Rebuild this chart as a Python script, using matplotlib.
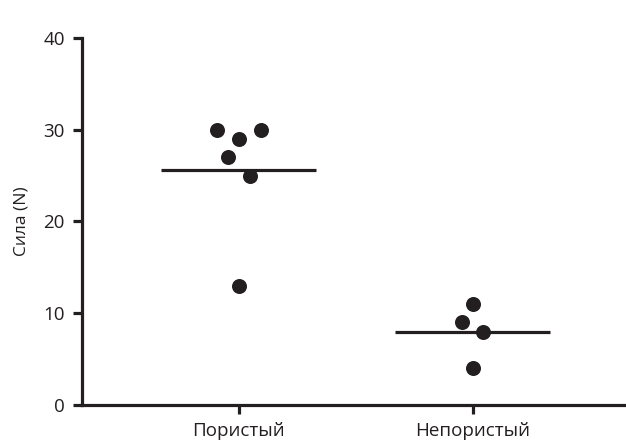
import numpy as np
import matplotlib.pyplot as plt

plt.rcParams['font.family'] = ['Open Sans', 'DejaVu Sans']

ink = '#231f20'

# -----------------------------
# data
# -----------------------------
categories = ["Пористый", "Непористый"]
porous = [30, 30, 29, 27, 25, 13]
nonporous = [11, 9, 8, 4]
# horizontal spread of the dots inside each column (category units)
porous_jitter = [-0.094, 0.094, 0.0, -0.047, 0.047, 0.0]
nonporous_jitter = [0.0, -0.046, 0.046, 0.0]

groups = [porous, nonporous]
jitters = [porous_jitter, nonporous_jitter]

# -----------------------------
# plot
# -----------------------------
fig = plt.figure(figsize=(6.26, 4.45), dpi=100)
ax = fig.add_axes([0.131, 0.0899, 0.869, 0.8247])

for i, (vals, jit) in enumerate(zip(groups, jitters)):
    xs = i + np.array(jit)
    ax.plot(xs, vals, 'o', color=ink, markersize=10.8, markeredgewidth=0,
            clip_on=False, zorder=3)
    m = np.mean(vals)
    ax.hlines(m, i - 0.333, i + 0.333, color=ink, linewidth=2.3, zorder=2)

ax.set_xlim(-0.669, 1.656)
ax.set_ylim(0, 40)
ax.set_yticks([0, 10, 20, 30, 40])
ax.set_xticks([0, 1])
ax.set_xticklabels(categories)
ax.set_ylabel("Сила (N)", fontsize=12.5, color=ink, labelpad=10)

for s in ['top', 'right']:
    ax.spines[s].set_visible(False)
for s in ['left', 'bottom']:
    ax.spines[s].set_linewidth(2.3)
    ax.spines[s].set_color(ink)

ax.tick_params(axis='y', length=6.5, width=2.3, color=ink, labelsize=13.5,
               labelcolor=ink, pad=6)
ax.tick_params(axis='x', length=6.5, width=2.3, color=ink, labelsize=13.5,
               labelcolor=ink, pad=6)

fig.savefig("out.png", dpi=100)
